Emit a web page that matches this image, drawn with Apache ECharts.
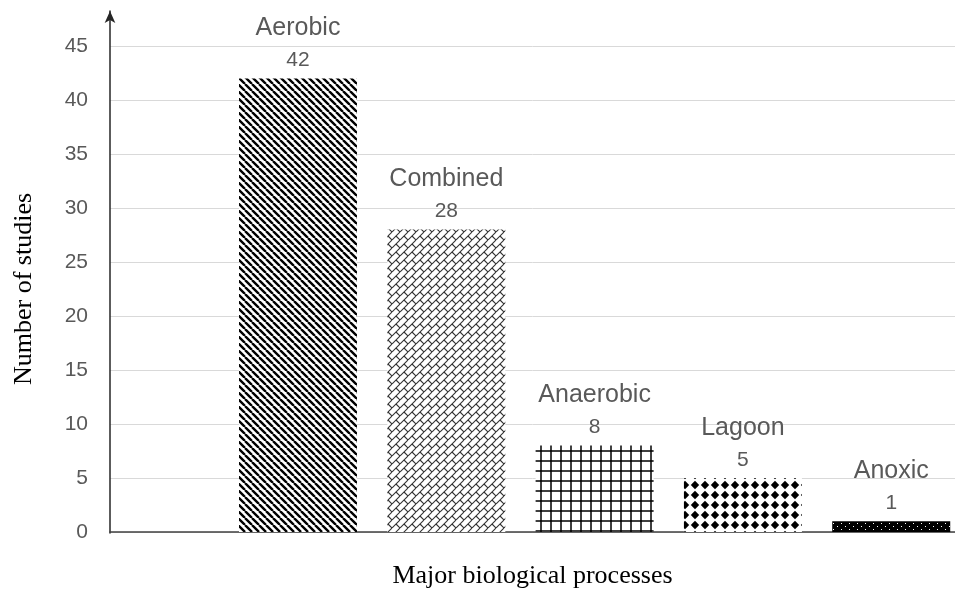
<!DOCTYPE html>
<html>
<head>
<meta charset="utf-8">
<script src="https://cdn.jsdelivr.net/npm/echarts@6/dist/echarts.min.js"></script>
<style>
html,body{margin:0;padding:0;background:#fff;}
#chart{width:955px;height:594px;}
</style>
</head>
<body>
<div id="chart"></div>
<script>
// ---- data ----
const categories = ['Aerobic', 'Combined', 'Anaerobic', 'Lagoon', 'Anoxic'];
const values = [42, 28, 8, 5, 1];
const yTicks = [0, 5, 10, 15, 20, 25, 30, 35, 40, 45];
const xTitle = 'Major biological processes';
const yTitle = 'Number of studies';

// ---- patterns (style only) ----
function makePattern(w, h, draw, bg) {
  const c = document.createElement('canvas');
  c.width = w; c.height = h;
  const ctx = c.getContext('2d');
  ctx.fillStyle = bg || '#fff';
  ctx.fillRect(0, 0, w, h);
  draw(ctx, w, h);
  return { image: c, repeat: 'repeat' };
}
const patterns = [
  // diagonal stripes
  makePattern(7, 7, (ctx, w, h) => {
    ctx.strokeStyle = '#000'; ctx.lineWidth = 2.4;
    ctx.beginPath();
    for (let k = -1; k <= 1; k++) { ctx.moveTo(k * w, 0); ctx.lineTo(k * w + w, h); }
    ctx.stroke();
  }),
  // diagonal brick
  makePattern(8, 8, (ctx, w, h) => {
    ctx.strokeStyle = '#333'; ctx.lineWidth = 1.1;
    ctx.beginPath();
    for (let k = -1; k <= 1; k++) { ctx.moveTo(k * w, h); ctx.lineTo(k * w + w, 0); }
    ctx.moveTo(4, 4); ctx.lineTo(8, 8);
    ctx.stroke();
  }),
  // square grid
  makePattern(10, 10, (ctx, w, h) => {
    ctx.strokeStyle = '#000'; ctx.lineWidth = 1.5;
    ctx.beginPath();
    ctx.moveTo(1, 0); ctx.lineTo(1, h);
    ctx.moveTo(0, 1); ctx.lineTo(w, 1);
    ctx.stroke();
  }),
  // diamonds
  makePattern(10, 10, (ctx) => {
    ctx.fillStyle = '#000';
    ctx.beginPath();
    ctx.moveTo(5, 0.8); ctx.lineTo(9.2, 5); ctx.lineTo(5, 9.2); ctx.lineTo(0.8, 5);
    ctx.closePath(); ctx.fill();
  }),
  // dense dots on black
  makePattern(8, 6, (ctx) => {
    ctx.fillStyle = '#fff';
    ctx.fillRect(1, 1, 1, 1);
    ctx.fillRect(5, 4, 1, 1);
  }, '#000')
];

const barData = values.map((v, i) => ({
  value: [i + 1, v],
  name: categories[i],
  itemStyle: { color: patterns[i] }
}));

const chart = echarts.init(document.getElementById('chart'), null, { renderer: 'canvas' });
chart.setOption({
  animation: false,
  backgroundColor: '#fff',
  grid: [
    { left: 110, right: 0, top: 46, bottom: 61 },
    { left: 110, right: 0, top: 11, bottom: 61 }
  ],
  xAxis: [
    {
      type: 'value', gridIndex: 0,
      min: -0.2677, max: 5.43,
      axisLine: { show: true, lineStyle: { color: '#404040', width: 1.5 } },
      axisTick: { show: false }, axisLabel: { show: false }, splitLine: { show: false },
      name: xTitle, nameLocation: 'middle', nameGap: 31,
      nameTextStyle: { fontFamily: 'Liberation Serif', fontSize: 26, color: '#000' }
    },
    { type: 'value', gridIndex: 1, show: false, min: 0, max: 1 }
  ],
  yAxis: [
    {
      type: 'value', gridIndex: 0,
      min: yTicks[0], max: yTicks[yTicks.length - 1], interval: yTicks[1] - yTicks[0],
      axisLine: { show: false }, axisTick: { show: false },
      axisLabel: { color: '#595959', fontFamily: 'Liberation Sans', fontSize: 21, margin: 22 },
      splitLine: { show: true, lineStyle: { color: '#d9d9d9', width: 1 } },
      name: yTitle, nameLocation: 'middle', nameRotate: 90, nameGap: 73,
      nameTextStyle: { fontFamily: 'Liberation Serif', fontSize: 26, color: '#000' }
    },
    {
      type: 'value', gridIndex: 1, min: 0, max: 1,
      axisLine: { show: true, symbol: ['none', 'arrow'], symbolSize: [8, 12], lineStyle: { color: '#262626', width: 1.5 } },
      axisTick: { show: false }, axisLabel: { show: false }, splitLine: { show: false }
    }
  ],
  series: [{
    type: 'bar', xAxisIndex: 0, yAxisIndex: 0,
    barWidth: 118,
    data: barData,
    label: {
      show: true, position: 'top', distance: 6,
      formatter: p => '{a|' + p.name + '}\n{b|' + p.value[1] + '}',
      rich: {
        a: { fontFamily: 'Liberation Sans', fontSize: 25, lineHeight: 40, color: '#595959', align: 'center' },
        b: { fontFamily: 'Liberation Sans', fontSize: 21, lineHeight: 24, color: '#595959', align: 'center' }
      }
    }
  }]
});
</script>
</body>
</html>
